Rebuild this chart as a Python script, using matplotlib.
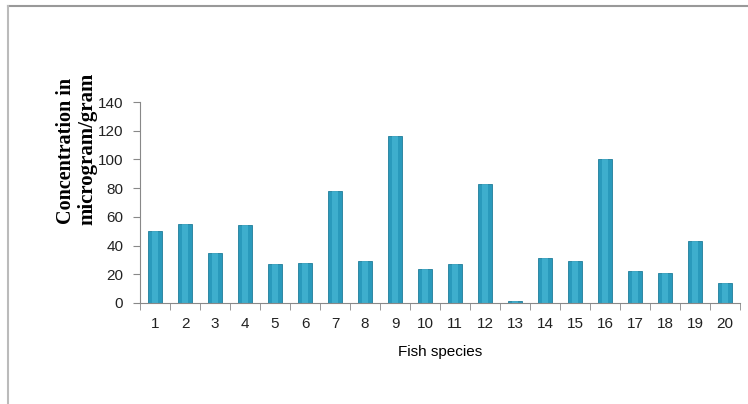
import matplotlib
matplotlib.use("Agg")
import matplotlib.pyplot as plt
from matplotlib.lines import Line2D
import numpy as np

species = [str(i) for i in range(1, 21)]
concentration = [50, 55, 35, 54, 27, 28, 78, 29, 116, 24,
                 27, 83, 1.6, 31, 29, 100, 22, 21, 43, 14]
yticks = [0, 20, 40, 60, 80, 100, 120, 140]

fig = plt.figure(figsize=(7.48, 4.04), dpi=100)
ax = fig.add_axes([140/748, 101/404, 600/748, 201/404])

x = np.arange(1, len(species) + 1)
ax.bar(x, concentration, width=0.47, color='#2a9abc', edgecolor='#1f7c99', linewidth=0.6)
# lighter highlight inside each bar
ax.bar(x, concentration, width=0.18, color='#4fbfdc', linewidth=0, alpha=0.55)

ax.set_xlim(0.5, 20.5)
ax.set_ylim(0, 140)
ax.set_yticks(yticks)
ax.set_yticklabels([str(v) for v in yticks])
ax.set_xticks(x)
ax.set_xticklabels(species)
ax.set_xticks(np.arange(0.5, 21, 1), minor=True)
ax.tick_params(axis='x', which='major', length=0, pad=10, labelsize=11)
ax.tick_params(axis='x', which='minor', length=5, direction='out', color='#888888')
ax.tick_params(axis='y', length=5, direction='out', color='#888888', labelsize=11, pad=7)
for lab in ax.get_xticklabels() + ax.get_yticklabels():
    lab.set_fontfamily('Liberation Sans')
    lab.set_color('#222222')

for s in ['top', 'right']:
    ax.spines[s].set_visible(False)
for s in ['left', 'bottom']:
    ax.spines[s].set_color('#888888')

ax.set_xlabel('Fish species', fontsize=11, family='Liberation Sans', labelpad=10)

fig.text(66/748, 1 - 151/404, 'Concentration in', rotation=90, ha='center', va='center',
         fontsize=14.5, fontweight='bold', family='Liberation Serif')
fig.text(87/748, 1 - 149/404, 'microgram/gram', rotation=90, ha='center', va='center',
         fontsize=15, fontweight='bold', family='Liberation Serif')

# outer chart frame (top and left)
fig.add_artist(Line2D([8/748, 1], [1 - 6/404, 1 - 6/404], color='#999999', linewidth=1.5))
fig.add_artist(Line2D([8/748, 8/748], [0, 1 - 6/404], color='#bbbbbb', linewidth=1.5))

fig.savefig('out.png', dpi=100)
